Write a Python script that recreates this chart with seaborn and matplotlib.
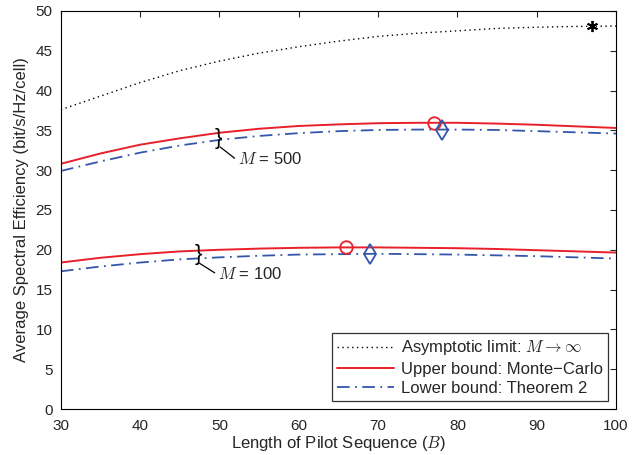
import matplotlib
matplotlib.use("Agg")
import matplotlib.pyplot as plt
import seaborn as sns
import pandas as pd
import numpy as np

# pilot length grid
pilot_len = [30, 35, 40, 45, 50, 55, 60, 65, 70, 75, 80, 85, 90, 95, 100]

# asymptotic limit M -> inf
asym_limit = [37.6, 39.3, 41.0, 42.5, 43.7, 44.7, 45.5, 46.2, 46.8, 47.2, 47.5, 47.8, 47.95, 48.05, 48.1]

# M = 500
upper_500 = [30.8, 32.1, 33.2, 34.0, 34.7, 35.2, 35.55, 35.75, 35.9, 35.95, 35.95, 35.85, 35.7, 35.5, 35.3]
lower_500 = [29.9, 31.1, 32.2, 33.1, 33.8, 34.3, 34.65, 34.9, 35.05, 35.1, 35.1, 35.05, 34.9, 34.75, 34.6]

# M = 100
upper_100 = [18.4, 19.0, 19.45, 19.8, 20.0, 20.15, 20.25, 20.3, 20.3, 20.25, 20.2, 20.1, 19.95, 19.8, 19.65]
lower_100 = [17.3, 17.9, 18.4, 18.8, 19.05, 19.25, 19.4, 19.45, 19.5, 19.45, 19.4, 19.3, 19.2, 19.05, 18.9]

# optimum markers (B, value)
star_pt = (97, 48.1)
upper_opt = [(77, 35.95), (66, 20.3)]
lower_opt = [(78, 35.1), (69, 19.5)]

red = "#e8202a"
blue = "#3356ac"

sns.set_style("white")
plt.rcParams["font.family"] = ["Liberation Sans", "DejaVu Sans"]
plt.rcParams["mathtext.fontset"] = "cm"

fig = plt.figure(figsize=(6.41, 4.55), dpi=100)
ax = fig.add_axes([0.095, 0.101, 0.866, 0.875])

df = pd.DataFrame({"B": pilot_len, "asym": asym_limit,
                   "up500": upper_500, "lo500": lower_500,
                   "up100": upper_100, "lo100": lower_100})

dashdot = (0, (7, 3, 1, 3))
sns.lineplot(data=df, x="B", y="asym", ax=ax, color="black", lw=1.0,
             linestyle=(0, (1, 2.5)), label=r"Asymptotic limit: $M \rightarrow \infty$")
sns.lineplot(data=df, x="B", y="up500", ax=ax, color=red, lw=1.4,
             label="Upper bound: Monte\u2212Carlo")
sns.lineplot(data=df, x="B", y="lo500", ax=ax, color=blue, lw=1.3,
             linestyle=dashdot, label="Lower bound: Theorem 2")
sns.lineplot(data=df, x="B", y="up100", ax=ax, color=red, lw=1.4)
sns.lineplot(data=df, x="B", y="lo100", ax=ax, color=blue, lw=1.3,
             linestyle=dashdot)

ax.plot(*star_pt, marker=(6, 2, 0), color="black", ms=8, mew=1.3)
for bx, by in upper_opt:
    ax.plot(bx, by, marker="o", ms=9, mfc="none", mec=red, mew=1.3)
for bx, by in lower_opt:
    ax.plot(bx, by, marker="d", ms=10, mfc="none", mec=blue, mew=1.3)

# braces with leader lines and labels
for bx, by, lx, ly, txt in [(49.9, 34.0, 52.3, 31.4, r"$M$ = 500"),
                            (47.3, 19.4, 49.8, 17.0, r"$M$ = 100")]:
    ax.text(bx, by, "}", fontsize=16, ha="center", va="center", color="black",
            family="Liberation Sans")
    ax.plot([bx + 0.2, lx - 0.4], [by - 1.1, ly + 0.1], color="black", lw=0.9)
    ax.text(lx, ly, txt, fontsize=12, ha="left", va="center")

ax.set_xlim(30, 100)
ax.set_ylim(0, 50)
ax.set_xticks(range(30, 101, 10))
ax.set_yticks(range(0, 51, 5))
ax.tick_params(direction="in", top=True, right=True, length=4, labelsize=11)
ax.tick_params(axis="x", pad=7)
ax.tick_params(axis="y", pad=6)
for s in ax.spines.values():
    s.set_color("black")
    s.set_linewidth(0.8)

ax.set_xlabel(r"Length of Pilot Sequence ($B$)", fontsize=12, labelpad=1)
ax.set_ylabel("Average Spectral Efficiency (bit/s/Hz/cell)", fontsize=12, labelpad=5)

leg = ax.legend(loc="lower right", fontsize=12, frameon=True, fancybox=False,
                edgecolor="black", handlelength=3.4, borderpad=0.3, labelspacing=0.25,
                handletextpad=0.4, borderaxespad=0.5)
leg.get_frame().set_linewidth(0.9)

fig.savefig("out.png", dpi=100)
